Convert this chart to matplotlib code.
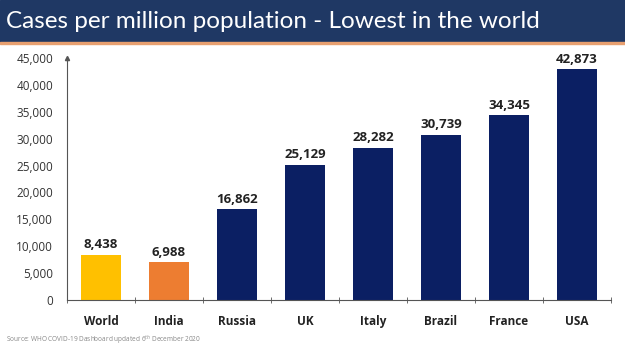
import matplotlib.pyplot as plt
from matplotlib.patches import Rectangle

countries = ["World", "India", "Russia", "UK", "Italy", "Brazil", "France", "USA"]
cases = [8438, 6988, 16862, 25129, 28282, 30739, 34345, 42873]
bar_colors = ["#FFC000", "#ED7D31", "#0B1F63", "#0B1F63", "#0B1F63",
              "#0B1F63", "#0B1F63", "#0B1F63"]

plt.rcParams['font.family'] = ['Open Sans', 'DejaVu Sans']

fig = plt.figure(figsize=(6.25, 3.51), dpi=100)

# title banner
fig.patches.append(Rectangle((0, 1 - 42/351), 1, 42/351, transform=fig.transFigure,
                             color="#1F3864", zorder=0))
fig.patches.append(Rectangle((0, 1 - 44/351), 1, 2/351, transform=fig.transFigure,
                             color="#E8A070", zorder=0))
fig.text(0.009, 1 - 21/351, "Cases per million population - Lowest in the world",
         color="white", fontsize=17.5, va="center", ha="left", family=['Lato', 'DejaVu Sans'])

ax = fig.add_axes([67/625, 1 - 300/351, 544/625, 242/351])
x = range(len(countries))
bars = ax.bar(x, cases, width=0.58, color=bar_colors)
for i, v in enumerate(cases):
    ax.text(i, v + 700, f"{v:,}", ha="center", va="bottom", fontsize=9.5,
            fontweight="bold", color="#222222")

ax.set_xlim(-0.5, len(countries) - 0.5)
ax.set_ylim(0, 45000)
ax.set_yticks(range(0, 45001, 5000))
ax.set_yticklabels([f"{t:,}" for t in range(0, 45001, 5000)], fontsize=8.5, color="#333333")
ax.set_xticks(x)
ax.set_xticklabels(countries, fontsize=8.5, fontweight="bold", color="#222222", va="baseline")
ax.set_xticks([i + 0.5 for i in range(-1, len(countries))], minor=True)
ax.tick_params(axis="x", which="major", length=0, pad=18)
ax.tick_params(axis="x", which="minor", length=4, direction="inout", color="#555555")
ax.tick_params(axis="y", length=0, pad=10)
for s in ["top", "right"]:
    ax.spines[s].set_visible(False)
ax.spines["left"].set_color("#555555")
ax.spines["bottom"].set_color("#555555")
ax.plot(0, 1, marker="^", markersize=3, color="#555555", transform=ax.transAxes,
        clip_on=False)

fig.text(0.009, 1 - 339/351, "Source: WHO COVID-19 Dashboard updated 6$^{th}$ December 2020",
         fontsize=4.7, color="#888888", ha="left", va="center")

plt.savefig("out.png", dpi=100)
